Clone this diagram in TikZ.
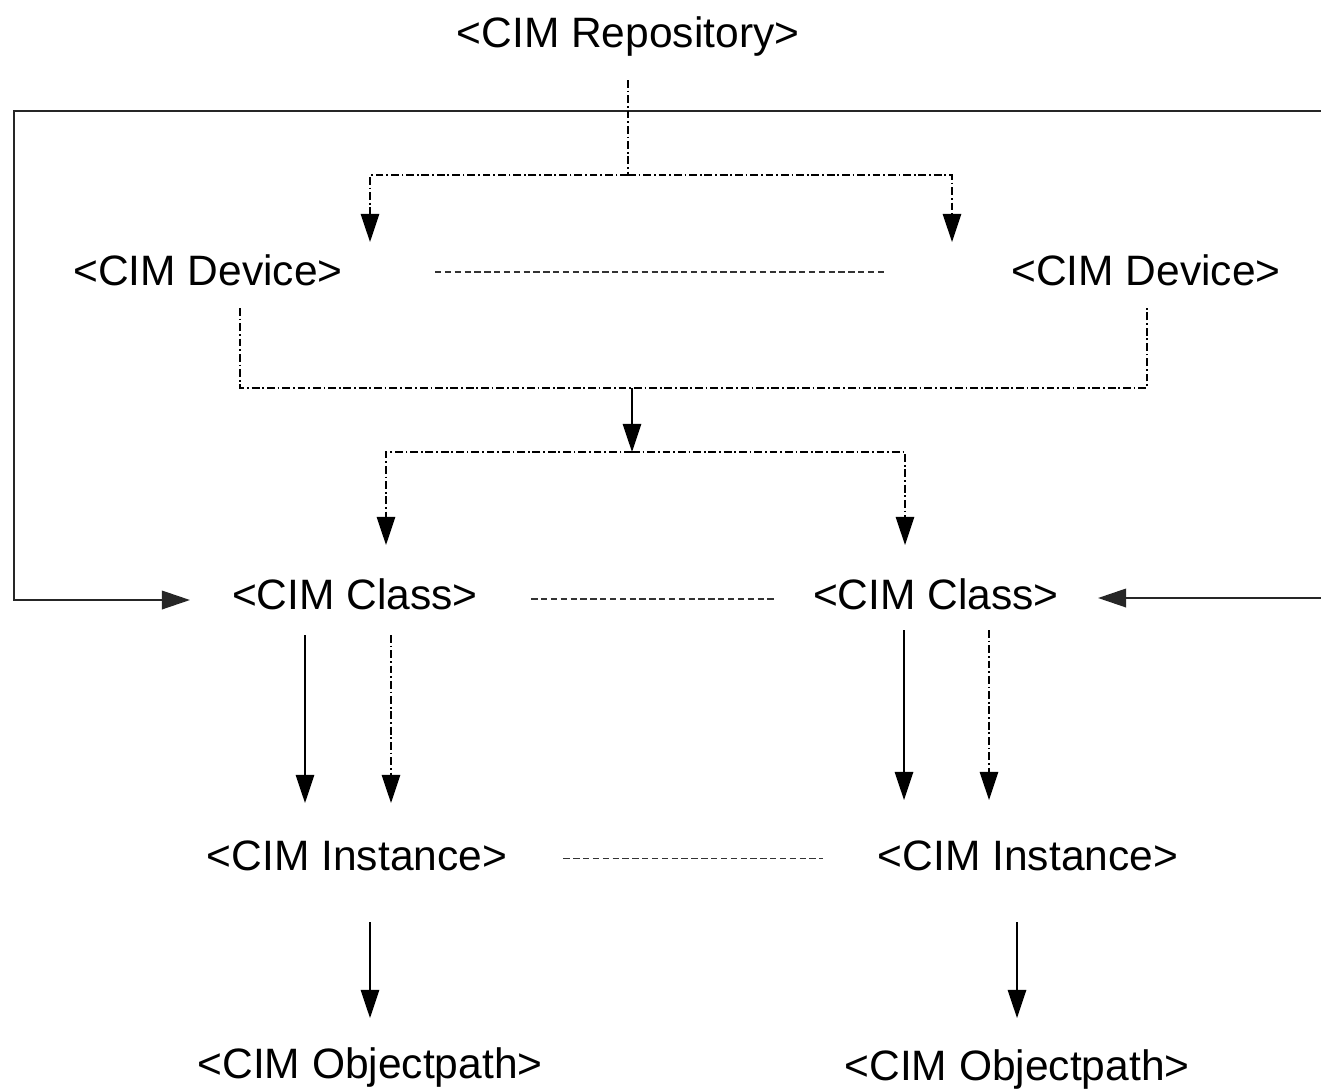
\documentclass[tikz,border=0pt]{standalone}
\usepackage{fontspec}
\setmainfont{Liberation Sans}
\usetikzlibrary{arrows.meta}
\tikzset{
  lbl/.style={anchor=base, inner sep=0pt, font=\fontsize{24.2pt}{29pt}\selectfont},
  dashdot/.style={line width=0.8pt, dash pattern=on 4.5pt off 1.6pt on 1pt off 1.6pt},
  dashline/.style={line width=0.95pt, black!80, dash pattern=on 3.6pt off 2pt},
  solidline/.style={line width=0.9pt},
  frame/.style={line width=1.3pt, black!85},
  tip/.style={-{Triangle[length=16pt,width=10.5pt]}},
}
\begin{document}
\begin{tikzpicture}[x=0.02cm, y=-0.02cm]
    \useasboundingbox (0,0) rectangle (1321,1089);
    % labels
    \node[lbl] (repo) at (628,47) {<CIM Repository>};
    \node[lbl] (devL) at (208,285) {<CIM Device>};
    \node[lbl] (devR) at (1146,285) {<CIM Device>};
    \node[lbl] (clsL) at (355,609) {<CIM Class>};
    \node[lbl] (clsR) at (936,609) {<CIM Class>};
    \node[lbl] (instL) at (357,870) {<CIM Instance>};
    \node[lbl] (instR) at (1028,870) {<CIM Instance>};
    \node[lbl] (pathL) at (370,1078) {<CIM Objectpath>};
    \node[lbl] (pathR) at (1017,1080) {<CIM Objectpath>};
    % junctions and arrow ends
    \coordinate (repoOut) at (628,80);
    \coordinate (repoJ) at (628,175);
    \coordinate (devLIn) at (370,242);
    \coordinate (devRIn) at (952,242);
    \coordinate (devLOut) at (240,308);
    \coordinate (devROut) at (1147,308);
    \coordinate (devJ) at (632,388);
    \coordinate (clsJ) at (632,452);
    \coordinate (clsLIn) at (386,545);
    \coordinate (clsRIn) at (905,545);
    \coordinate (clsLa) at (305,635);
    \coordinate (clsLb) at (391,635);
    \coordinate (clsRa) at (904,630);
    \coordinate (clsRb) at (989,630);
    \coordinate (instLa) at (305,803);
    \coordinate (instLb) at (391,803);
    \coordinate (instRa) at (904,800);
    \coordinate (instRb) at (989,800);
    \coordinate (instLOut) at (370,922);
    \coordinate (instROut) at (1017,922);
    \coordinate (pathLIn) at (370,1018);
    \coordinate (pathRIn) at (1017,1018);
    \coordinate (frTL) at (14,111);
    \coordinate (frTR) at (1321,111);
    \coordinate (frL) at (14,600);
    \coordinate (frR) at (1321,598);
    \coordinate (clsLFeed) at (190,600);
    \coordinate (clsRFeed) at (1098,598);
    % outer feed lines
    \draw[frame,tip] (frTR) -- (frTL) -- (frL) -- (clsLFeed);
    \draw[frame,tip] (frR) -- (clsRFeed);
    % repository to devices
    \draw[dashdot] (repoOut) -- (repoJ);
    \draw[dashdot,tip] (repoJ) -| (devLIn);
    \draw[dashdot,tip] (repoJ) -| (devRIn);
    % devices to classes
    \draw[dashdot] (devLOut) |- (devJ) -| (devROut);
    \draw[solidline,tip] (devJ) -- (clsJ);
    \draw[dashdot,tip] (clsJ) -| (clsLIn);
    \draw[dashdot,tip] (clsJ) -| (clsRIn);
    % peers
    \draw[dashline,shorten <=92*0.02cm,shorten >=125*0.02cm] ([yshift=-0.04cm]devL.east) -- ([yshift=-0.04cm]devR.west);
    \draw[dashline,shorten <=53*0.02cm,shorten >=37*0.02cm] ([yshift=-0.1cm]clsL.east) -- ([yshift=-0.1cm]clsR.west);
    \draw[dashline,shorten <=56*0.02cm,shorten >=55*0.02cm] ([yshift=-0.06cm]instL.east) -- ([yshift=-0.06cm]instR.west);
    % classes to instances
    \draw[solidline,tip] (clsLa) -- (instLa);
    \draw[dashdot,tip] (clsLb) -- (instLb);
    \draw[solidline,tip] (clsRa) -- (instRa);
    \draw[dashdot,tip] (clsRb) -- (instRb);
    % instances to object paths
    \draw[solidline,tip] (instLOut) -- (pathLIn);
    \draw[solidline,tip] (instROut) -- (pathRIn);
\end{tikzpicture}
\end{document}
